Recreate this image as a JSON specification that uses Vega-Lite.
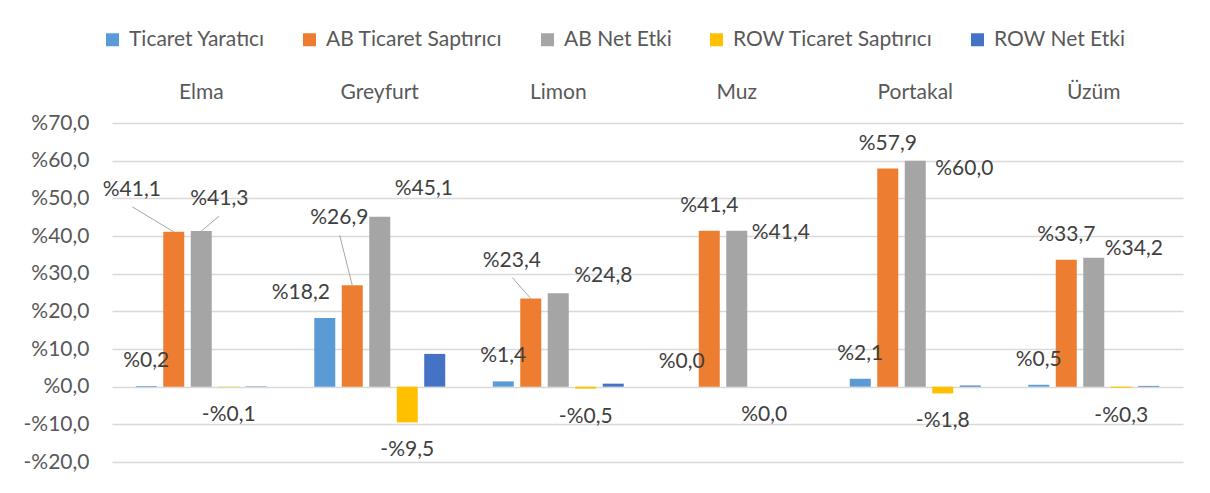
{
  "$schema": "https://vega.github.io/schema/vega-lite/v6.json",
  "width": 1071,
  "height": 339,
  "autosize": "none",
  "padding": {"left": 112, "top": 123, "right": 27, "bottom": 31},
  "background": "white",
  "config": {
    "locale": {"number": {"decimal": ",", "thousands": ".", "grouping": [3], "currency": ["%", ""], "minus": "-"}},
    "view": {"stroke": null},
    "font": "Lato"
  },
  "data": {
    "values": [
      {"meyve": "Elma", "seri": "Ticaret Yaratıcı", "deger": 0.2},
      {"meyve": "Elma", "seri": "AB Ticaret Saptırıcı", "deger": 41.1},
      {"meyve": "Elma", "seri": "AB Net Etki", "deger": 41.3},
      {"meyve": "Elma", "seri": "ROW Ticaret Saptırıcı", "deger": -0.1},
      {"meyve": "Elma", "seri": "ROW Net Etki", "deger": 0.1},
      {"meyve": "Greyfurt", "seri": "Ticaret Yaratıcı", "deger": 18.2},
      {"meyve": "Greyfurt", "seri": "AB Ticaret Saptırıcı", "deger": 26.9},
      {"meyve": "Greyfurt", "seri": "AB Net Etki", "deger": 45.1},
      {"meyve": "Greyfurt", "seri": "ROW Ticaret Saptırıcı", "deger": -9.5},
      {"meyve": "Greyfurt", "seri": "ROW Net Etki", "deger": 8.7},
      {"meyve": "Limon", "seri": "Ticaret Yaratıcı", "deger": 1.4},
      {"meyve": "Limon", "seri": "AB Ticaret Saptırıcı", "deger": 23.4},
      {"meyve": "Limon", "seri": "AB Net Etki", "deger": 24.8},
      {"meyve": "Limon", "seri": "ROW Ticaret Saptırıcı", "deger": -0.5},
      {"meyve": "Limon", "seri": "ROW Net Etki", "deger": 0.8},
      {"meyve": "Muz", "seri": "Ticaret Yaratıcı", "deger": 0.0},
      {"meyve": "Muz", "seri": "AB Ticaret Saptırıcı", "deger": 41.4},
      {"meyve": "Muz", "seri": "AB Net Etki", "deger": 41.4},
      {"meyve": "Muz", "seri": "ROW Ticaret Saptırıcı", "deger": 0.0},
      {"meyve": "Muz", "seri": "ROW Net Etki", "deger": 0.0},
      {"meyve": "Portakal", "seri": "Ticaret Yaratıcı", "deger": 2.1},
      {"meyve": "Portakal", "seri": "AB Ticaret Saptırıcı", "deger": 57.9},
      {"meyve": "Portakal", "seri": "AB Net Etki", "deger": 60.0},
      {"meyve": "Portakal", "seri": "ROW Ticaret Saptırıcı", "deger": -1.8},
      {"meyve": "Portakal", "seri": "ROW Net Etki", "deger": 0.3},
      {"meyve": "Üzüm", "seri": "Ticaret Yaratıcı", "deger": 0.5},
      {"meyve": "Üzüm", "seri": "AB Ticaret Saptırıcı", "deger": 33.7},
      {"meyve": "Üzüm", "seri": "AB Net Etki", "deger": 34.2},
      {"meyve": "Üzüm", "seri": "ROW Ticaret Saptırıcı", "deger": -0.3},
      {"meyve": "Üzüm", "seri": "ROW Net Etki", "deger": 0.2}
    ]
  },
  "encoding": {
    "x": {
      "field": "meyve", "type": "nominal", "sort": null,
      "scale": {"paddingInner": 0.23, "paddingOuter": 0.115},
      "axis": {"orient": "top", "title": null, "domain": false, "ticks": false, "tickSize": 0, "labelPadding": 31, "labelBaseline": "middle", "labelFontSize": 21, "labelColor": "#595959", "labelAngle": 0, "grid": false}
    },
    "xOffset": {
      "field": "seri", "type": "nominal",
      "sort": ["Ticaret Yaratıcı", "AB Ticaret Saptırıcı", "AB Net Etki", "ROW Ticaret Saptırıcı", "ROW Net Etki"],
      "scale": {"paddingInner": 0.236, "paddingOuter": 0.118}
    },
    "y": {
      "field": "deger", "type": "quantitative",
      "scale": {"domain": [-20, 70], "nice": false, "zero": false},
      "axis": {"title": null, "values": [-20, -10, 0, 10, 20, 30, 40, 50, 60, 70], "format": "$.1f", "domain": false, "ticks": false, "tickSize": 0, "labelPadding": 23, "labelFontSize": 21, "labelColor": "#595959", "gridColor": "#D9D9D9", "gridWidth": 1.3}
    }
  },
  "layer": [
    {
      "mark": {"type": "bar"},
      "encoding": {
        "color": {
          "field": "seri", "type": "nominal",
          "scale": {
            "domain": ["Ticaret Yaratıcı", "AB Ticaret Saptırıcı", "AB Net Etki", "ROW Ticaret Saptırıcı", "ROW Net Etki"],
            "range": ["#5B9BD5", "#ED7D31", "#A5A5A5", "#FFC000", "#4472C4"]
          },
          "legend": {
            "orient": "none", "legendX": -10, "legendY": -94, "direction": "horizontal", "title": null,
            "symbolType": "square", "symbolSize": 169, "symbolStrokeWidth": 0, "symbolOpacity": 1,
            "labelFontSize": 21, "labelColor": "#595959", "labelOffset": 6, "labelLimit": 400,
            "columnPadding": 34, "padding": 0, "rowPadding": 0
          }
        }
      }
    },
    {
      "transform": [{"filter": "(datum.seri === 'Ticaret Yaratıcı' && datum.meyve !== 'Greyfurt') || (datum.seri === 'AB Ticaret Saptırıcı' && (datum.meyve === 'Muz' || datum.meyve === 'Portakal' || datum.meyve === 'Üzüm'))"}],
      "mark": {"type": "text", "fontSize": 21, "color": "#404040", "baseline": "middle", "dy": -25},
      "encoding": {"text": {"field": "deger", "type": "quantitative", "format": "$.1f"}}
    },
    {
      "transform": [{"filter": "datum.seri === 'Ticaret Yaratıcı' && datum.meyve === 'Greyfurt'"}],
      "mark": {"type": "text", "fontSize": 21, "color": "#404040", "baseline": "middle", "dx": -24, "dy": -25},
      "encoding": {"text": {"field": "deger", "type": "quantitative", "format": "$.1f"}}
    },
    {
      "transform": [{"filter": "datum.seri === 'AB Ticaret Saptırıcı' && datum.meyve === 'Elma'"}],
      "mark": {"type": "text", "fontSize": 21, "color": "#404040", "baseline": "middle", "dx": -42, "dy": -42},
      "encoding": {"text": {"field": "deger", "type": "quantitative", "format": "$.1f"}}
    },
    {
      "transform": [{"filter": "datum.seri === 'AB Ticaret Saptırıcı' && datum.meyve === 'Greyfurt'"}],
      "mark": {"type": "text", "fontSize": 21, "color": "#404040", "baseline": "middle", "dx": -13, "dy": -67},
      "encoding": {"text": {"field": "deger", "type": "quantitative", "format": "$.1f"}}
    },
    {
      "transform": [{"filter": "datum.seri === 'AB Ticaret Saptırıcı' && datum.meyve === 'Limon'"}],
      "mark": {"type": "text", "fontSize": 21, "color": "#404040", "baseline": "middle", "dx": -19, "dy": -38},
      "encoding": {"text": {"field": "deger", "type": "quantitative", "format": "$.1f"}}
    },
    {
      "transform": [{"filter": "datum.seri === 'AB Net Etki' && datum.meyve === 'Elma'"}],
      "mark": {"type": "text", "fontSize": 21, "color": "#404040", "baseline": "middle", "dx": 18, "dy": -32},
      "encoding": {"text": {"field": "deger", "type": "quantitative", "format": "$.1f"}}
    },
    {
      "transform": [{"filter": "datum.seri === 'AB Net Etki' && datum.meyve === 'Greyfurt'"}],
      "mark": {"type": "text", "fontSize": 21, "color": "#404040", "baseline": "middle", "dx": 44, "dy": -28},
      "encoding": {"text": {"field": "deger", "type": "quantitative", "format": "$.1f"}}
    },
    {
      "transform": [{"filter": "datum.seri === 'AB Net Etki' && datum.meyve === 'Limon'"}],
      "mark": {"type": "text", "fontSize": 21, "color": "#404040", "baseline": "middle", "dx": 45, "dy": -17},
      "encoding": {"text": {"field": "deger", "type": "quantitative", "format": "$.1f"}}
    },
    {
      "transform": [{"filter": "datum.seri === 'AB Net Etki' && datum.meyve === 'Muz'"}],
      "mark": {"type": "text", "fontSize": 21, "color": "#404040", "baseline": "middle", "dx": 44, "dy": 2},
      "encoding": {"text": {"field": "deger", "type": "quantitative", "format": "$.1f"}}
    },
    {
      "transform": [{"filter": "datum.seri === 'AB Net Etki' && datum.meyve === 'Portakal'"}],
      "mark": {"type": "text", "fontSize": 21, "color": "#404040", "baseline": "middle", "dx": 49, "dy": 8},
      "encoding": {"text": {"field": "deger", "type": "quantitative", "format": "$.1f"}}
    },
    {
      "transform": [{"filter": "datum.seri === 'AB Net Etki' && datum.meyve === 'Üzüm'"}],
      "mark": {"type": "text", "fontSize": 21, "color": "#404040", "baseline": "middle", "dx": 40, "dy": -9},
      "encoding": {"text": {"field": "deger", "type": "quantitative", "format": "$.1f"}}
    },
    {
      "transform": [{"filter": "datum.seri === 'ROW Ticaret Saptırıcı'"}],
      "mark": {"type": "text", "fontSize": 21, "color": "#404040", "baseline": "middle", "dy": 28},
      "encoding": {"text": {"field": "deger", "type": "quantitative", "format": "$.1f"}}
    },
    {
      "transform": [{"filter": "datum.seri === 'AB Ticaret Saptırıcı' && datum.meyve === 'Elma'"}],
      "mark": {"type": "rule", "color": "#A6A6A6", "strokeWidth": 1, "y2Offset": -25, "x2Offset": -69},
      "encoding": {"y2": {"field": "deger"}, "x2": {"field": "meyve"}}
    },
    {
      "transform": [{"filter": "datum.seri === 'AB Ticaret Saptırıcı' && datum.meyve === 'Greyfurt'"}],
      "mark": {"type": "rule", "color": "#A6A6A6", "strokeWidth": 1, "y2Offset": -50, "x2Offset": -40},
      "encoding": {"y2": {"field": "deger"}, "x2": {"field": "meyve"}}
    },
    {
      "transform": [{"filter": "datum.seri === 'AB Ticaret Saptırıcı' && datum.meyve === 'Limon'"}],
      "mark": {"type": "rule", "color": "#A6A6A6", "strokeWidth": 1, "y2Offset": -21, "x2Offset": -46},
      "encoding": {"y2": {"field": "deger"}, "x2": {"field": "meyve"}}
    },
    {
      "transform": [{"filter": "datum.seri === 'AB Net Etki' && datum.meyve === 'Elma'"}],
      "mark": {"type": "rule", "color": "#A6A6A6", "strokeWidth": 1, "y2Offset": -15, "x2Offset": 18},
      "encoding": {"y2": {"field": "deger"}, "x2": {"field": "meyve"}}
    }
  ]
}
